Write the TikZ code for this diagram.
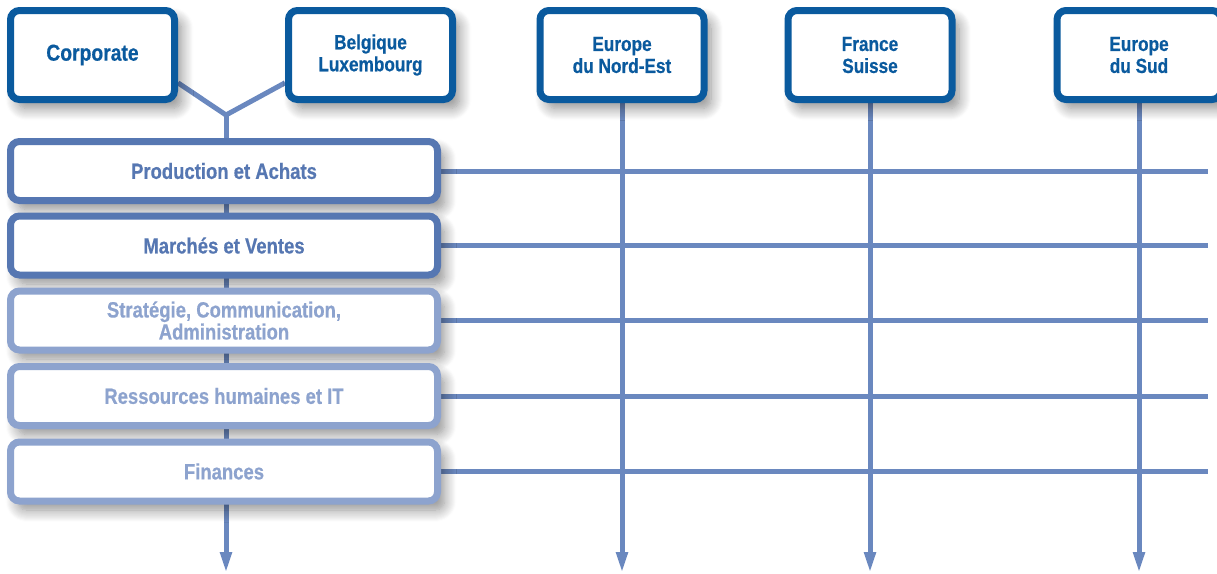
\documentclass[tikz,border=0pt]{standalone}
\usepackage{fontspec}
\newfontfamily\cond{Liberation Sans}[FakeStretch=0.84, BoldFeatures={FakeBold=0.5}]
\usetikzlibrary{arrows.meta,calc,shadows.blur}
\definecolor{dkblue}{HTML}{0A5A9E}
\definecolor{midblue}{HTML}{5677B2}
\definecolor{ltblue}{HTML}{8DA3CE}
\definecolor{linec}{HTML}{6A88BF}
\pgfdeclarelayer{bg}
\pgfsetlayers{bg,main}
\tikzset{
  shad/.style={blur shadow={shadow xshift=7pt, shadow yshift=-9pt, shadow blur radius=12pt, shadow blur steps=12, shadow opacity=45}},
  topbox/.style={draw=dkblue, line width=7pt, rounded corners=9pt, fill=white,
    minimum width=164pt, minimum height=89pt, text=dkblue, align=center, inner sep=0pt,
    font=\cond\bfseries\fontsize{20.5}{22}\selectfont, shad},
  rowbox/.style={line width=7pt, rounded corners=9pt, fill=white,
    minimum width=427pt, minimum height=59pt, align=center, inner sep=0pt,
    font=\cond\bfseries\fontsize{22}{22}\selectfont, shad},
  rowdark/.style={rowbox, draw=midblue, text=midblue},
  rowlight/.style={rowbox, draw=ltblue, text=ltblue},
  conn/.style={draw=linec, line width=5pt},
  arr/.style={conn, -{Triangle[width=11pt,length=21pt]}},
}
\begin{document}
\begin{tikzpicture}[x=1pt,y=-1pt]
\useasboundingbox (0,0) rectangle (1217,573);
\clip (0,0) rectangle (1217,573);
% top boxes
\node[topbox, font=\cond\bfseries\fontsize{23}{25}\selectfont] (corp) at (92.5,55) {Corporate};
\node[topbox] (belg) at (370.5,55) {Belgique\\Luxembourg};
\node[topbox] (ne) at (622,55) {Europe\\du Nord-Est};
\node[topbox] (fs) at (870,55) {France\\Suisse};
\node[topbox] (sud) at (1139,55) {Europe\\du Sud};
% rows
\node[rowdark] (prod) at (224,171) {Production et Achats};
\node[rowdark] (mkt) at (224,245.5) {Marchés et Ventes};
\node[rowlight] (strat) at (224,320.5) {Stratégie, Communication,\\Administration};
\node[rowlight] (rh) at (224,396) {Ressources humaines et IT};
\node[rowlight] (fin) at (224,471.5) {Finances};
% coordinates
\coordinate (j) at (226,115);
\coordinate (endL) at (226,573);
\coordinate (rend) at (1208,0);
\begin{pgfonlayer}{bg}
  \draw[conn] ($(corp.east)!0.58!(corp.south east)$) -- (j);
  \draw[conn] ($(belg.west)!0.58!(belg.south west)$) -- (j);
  \draw[arr] (j) -- (endL);
  \foreach \r in {prod,mkt,strat,rh,fin}{
    \draw[conn] (\r.east) -- (\r.east -| rend);
  }
  \draw[arr] (ne.south) -- (ne.south |- endL);
  \draw[arr] (fs.south) -- (fs.south |- endL);
  \draw[arr] (sud.south) -- (sud.south |- endL);
\end{pgfonlayer}
\end{tikzpicture}
\end{document}
